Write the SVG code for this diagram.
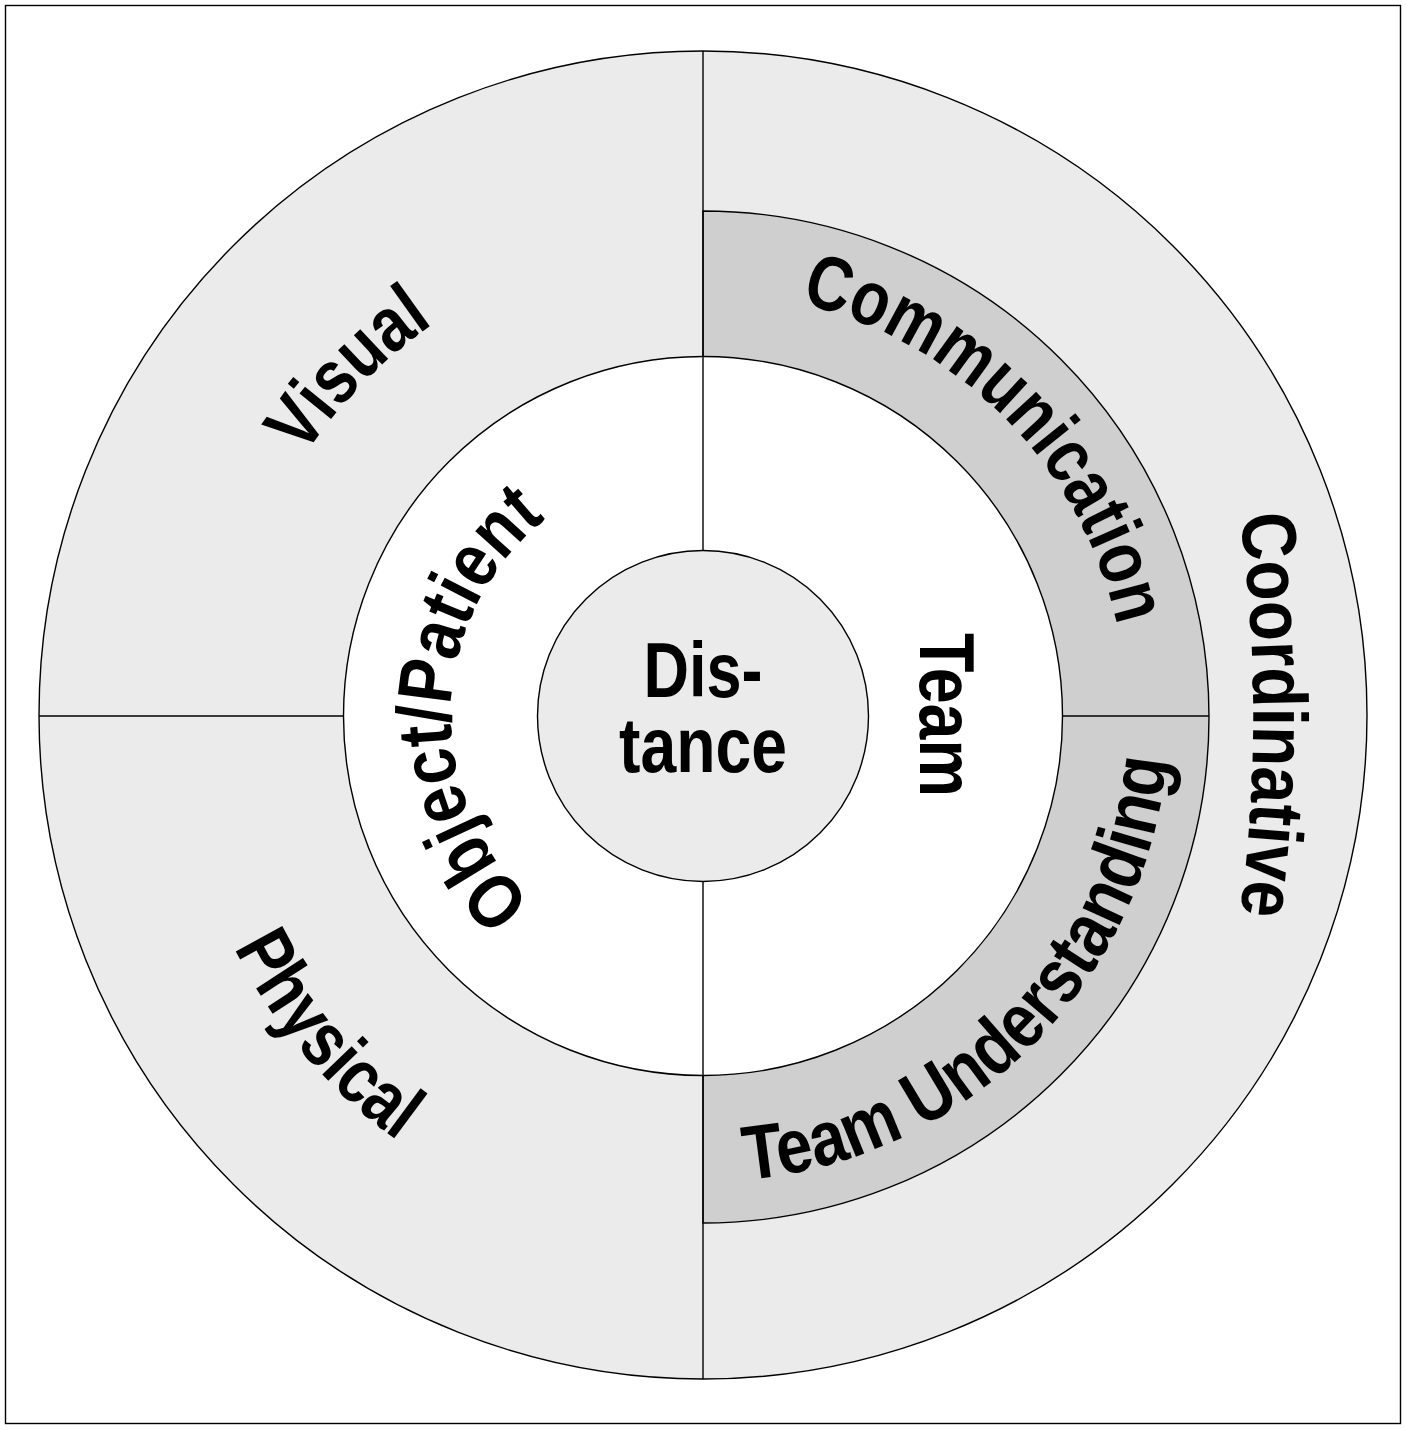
<svg xmlns="http://www.w3.org/2000/svg" width="1406" height="1430" viewBox="0 0 1406 1430">
<style>
.ln{stroke:#000;stroke-width:1.4;fill:none}
.sh{stroke:#000;stroke-width:1.4}
.lbl{font-family:"Liberation Sans Narrow","Arial Narrow","Liberation Sans",sans-serif;font-weight:bold;font-size:77px;fill:#000}
</style>
<defs>
<path id="pComm" d="M 462.8 366.6 A 424 424 0 0 1 1048.2 962.2"/>
<path id="pTU" d="M 403.5 1073 A 466 466 0 0 0 1060 416.5"/>
<path id="pOP" d="M 650.6 962.5 A 252 252 0 0 1 667.9 466.4"/>
<path id="pVis" d="M 244.8 844.8 A 476 476 0 0 1 820.6 254.8"/>
<path id="pPhy" d="M 210.6 539.7 A 523 523 0 0 0 796.5 1230.6"/>
<path id="pCoord" d="M 1237 495 A 1500 1500 0 0 1 1237 935"/>
</defs>
<rect x="0" y="0" width="1406" height="1430" fill="#fff"/>
<rect x="5.5" y="5.5" width="1395" height="1418" fill="none" class="ln"/>
<g id="outer-ring">
<circle cx="703" cy="715" r="664" fill="#ebebeb" class="sh"/>
</g>
<g id="team-band">
<path d="M 703 211 A 506 506 0 0 1 703 1223 Z" fill="#cfcfcf" class="sh"/>
</g>
<g id="inner-ring">
<circle cx="703" cy="716" r="359.5" fill="#fff" class="sh"/>
</g>
<g id="center">
<circle cx="703" cy="716" r="165.5" fill="#ebebeb" class="sh"/>
</g>
<g id="connectors">
<line x1="703" y1="51" x2="703" y2="550.5" class="ln"/>
<line x1="703" y1="881.5" x2="703" y2="1379" class="ln"/>
<line x1="39" y1="716" x2="343.5" y2="716" class="ln"/>
<line x1="1062.5" y1="716" x2="1209" y2="716" class="ln"/>
</g>
<g id="label-distance">
<text class="lbl" x="703" y="697" text-anchor="middle" textLength="119" lengthAdjust="spacingAndGlyphs">Dis-</text>
<text class="lbl" x="703" y="772" text-anchor="middle" textLength="168" lengthAdjust="spacingAndGlyphs">tance</text>
</g>
<g id="label-team">
<text class="lbl" transform="translate(920 715) rotate(90)" text-anchor="middle" textLength="164" lengthAdjust="spacingAndGlyphs">Team</text>
</g>
<g id="label-communication">
<text class="lbl"><textPath href="#pComm" startOffset="50%" text-anchor="middle" textLength="477" lengthAdjust="spacingAndGlyphs">Communication</textPath></text>
</g>
<g id="label-team-understanding">
<text class="lbl"><textPath href="#pTU" startOffset="50%" text-anchor="middle" textLength="645" lengthAdjust="spacingAndGlyphs">Team Understanding</textPath></text>
</g>
<g id="label-object-patient">
<text class="lbl"><textPath href="#pOP" startOffset="50%" text-anchor="middle" textLength="435" lengthAdjust="spacingAndGlyphs">Object/Patient</textPath></text>
</g>
<g id="label-visual">
<text class="lbl"><textPath href="#pVis" startOffset="50%" text-anchor="middle" textLength="186" lengthAdjust="spacingAndGlyphs">Visual</textPath></text>
</g>
<g id="label-physical">
<text class="lbl"><textPath href="#pPhy" startOffset="50%" text-anchor="middle" textLength="256" lengthAdjust="spacingAndGlyphs">Physical</textPath></text>
</g>
<g id="label-coordinative">
<text class="lbl"><textPath href="#pCoord" startOffset="50%" text-anchor="middle" textLength="400" lengthAdjust="spacingAndGlyphs">Coordinative</textPath></text>
</g>
</svg>
